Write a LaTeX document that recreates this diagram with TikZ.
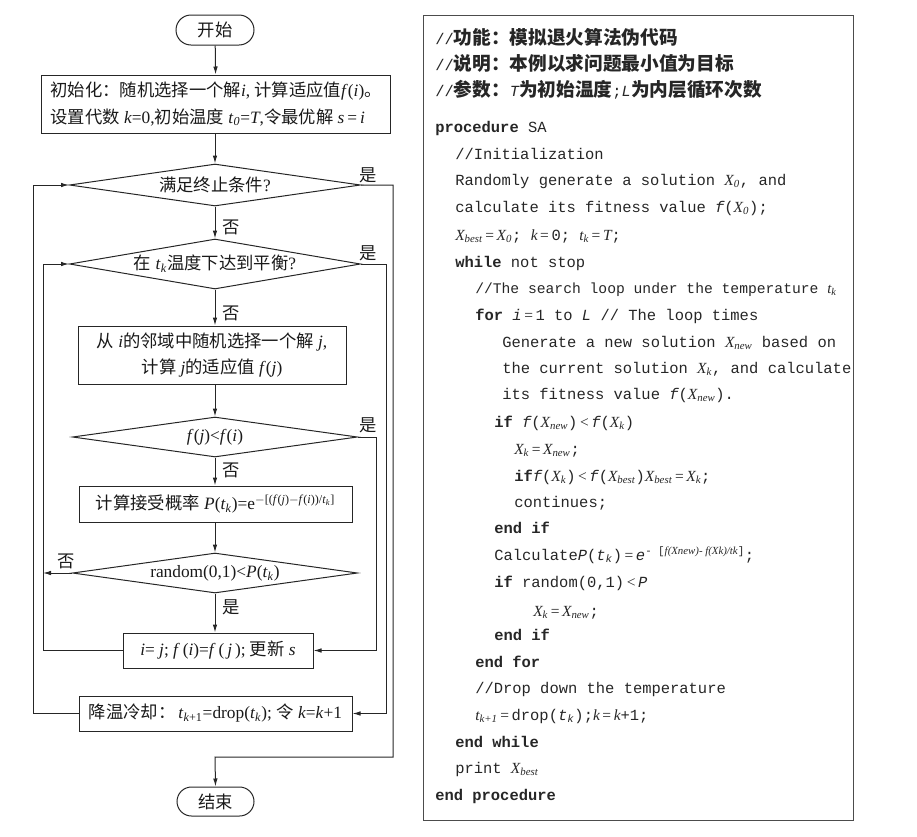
\documentclass[tikz,border=0pt]{standalone}
\usepackage{fontspec}
\setmainfont{Liberation Serif}
\newfontfamily\cjk{Noto Sans CJK SC}
\newfontfamily\code{Liberation Mono}
\usetikzlibrary{arrows.meta,shapes.geometric,shapes.misc}
\newlength\upx
\setlength\upx{0.75pt}
\newcommand\mv[2]{\textit{#1}\textsubscript{\textit{#2}}}
\newcommand\sv[1]{{\rmfamily\itshape #1}}
\newcommand\svs[2]{{\rmfamily\itshape #1\textsubscript{#2}}}
\newcommand\Eq{{\rmfamily\,=\,}}
\newcommand\Lt{{\rmfamily\,<\,}}
\begin{document}
\begin{tikzpicture}[x=0.75pt,y=-0.75pt,
  fc/.style={font=\fontsize{13}{20}\selectfont, line width=0.75pt, draw=black!85, text=black!90},
  term/.style={fc, rounded rectangle, minimum width=78\upx, minimum height=30\upx, inner sep=0pt},
  proc/.style={fc, rectangle, inner sep=0pt},
  dec/.style={fc, diamond, aspect=7, inner sep=0pt},
  lab/.style={font=\fontsize{13}{15}\selectfont\cjk, inner sep=0pt, text=black!90},
  flow/.style={line width=0.75pt, draw=black!85, -{Latex[length=6pt,width=3.4pt]}},
  wire/.style={line width=0.75pt, draw=black!85},
  codeline/.style={anchor=base west, inner sep=0pt, font=\fontsize{11.6}{14}\code, text=black!85},
]
\useasboundingbox (0,0) rectangle (917,836);

% ---------- flowchart ----------
\node[term] (start) at (215,30) {{\cjk 开始}};
\node[proc, minimum width=349\upx, minimum height=58\upx, align=left] (init) at (216,104)
  {{\cjk 初始化：随机选择一个解}\textit{i}, {\cjk 计算适应值}\textit{f}(\textit{i}){\cjk 。}\\
   {\cjk 设置代数} \textit{k}=0,{\cjk 初始温度} \mv{t}{0}=\textit{T},{\cjk 令最优解} \textit{s}\,=\,\textit{i}};
\node[dec, minimum width=291\upx, minimum height=42\upx] (d1) at (215,185) {{\cjk 满足终止条件}?};
\node[dec, minimum width=291\upx, minimum height=50\upx] (d2) at (215,264) {{\cjk 在} \mv{t}{k}{\cjk 温度下达到平衡}?};
\node[proc, minimum width=268\upx, minimum height=58\upx, align=center] (b3) at (212,355)
  {{\cjk 从} \textit{i}{\cjk 的邻域中随机选择一个解} \textit{j},\\
   {\cjk 计算} \textit{j}{\cjk 的适应值} \textit{f}(\textit{j})};
\node[dec, minimum width=285\upx, minimum height=40\upx] (d3) at (215,437) {\textit{f}(\textit{j})<\textit{f}(\textit{i})};
\node[proc, minimum width=273\upx, minimum height=36\upx] (b4) at (215.5,504)
  {{\cjk 计算接受概率} \textit{P}(\mv{t}{k})=e\textsuperscript{$-$[(\textit{f}(\textit{j})$-$\textit{f}(\textit{i}))/\mv{t}{k}]}};
\node[dec, minimum width=285\upx, minimum height=40\upx] (d4) at (215,573) {random(0,1)<\textit{P}(\mv{t}{k})};
\node[proc, minimum width=190\upx, minimum height=35\upx] (ij) at (218,650.5)
  {\textit{i}= \textit{j}; \textit{f}\,(\textit{i})=\textit{f}\,(\,\textit{j}\,); {\cjk 更新} \textit{s}};
\node[proc, minimum width=273\upx, minimum height=35\upx] (cool) at (215.5,713.5)
  {{\cjk 降温冷却：}\,\textit{t}\textsubscript{\textit{k}+1}=drop(\mv{t}{k}); {\cjk 令} \textit{k}=\textit{k}+1};
\node[term, minimum width=77\upx, minimum height=29\upx] (stop) at (215.5,801.5) {{\cjk 结束}};

\coordinate (r1a) at (393,185);
\coordinate (r1b) at (393,757);
\coordinate (r1c) at (215,757);
\coordinate (r2) at (386,0);
\coordinate (r3) at (376,0);
\coordinate (l1) at (33,0);
\coordinate (l2) at (43,0);

\draw[flow] (start) -- (init);
\draw[flow] (init.south -| d1.north) -- (d1.north);
\draw[flow] (d1.south) -- (d2.north);
\draw[flow] (d2.south) -- (d2.south |- b3.north);
\draw[flow] (d2.south |- b3.south) -- (d3.north);
\draw[flow] (d3.south) -- (d3.south |- b4.north);
\draw[flow] (d3.south |- b4.south) -- (d4.north);
\draw[flow] (d4.south) -- (d4.south |- ij.north);
\draw[flow] (d1.east) -- (r1a) -- (r1b) -- (r1c) -- (stop.north);
\draw[flow] (d2.east) -- (d2.east -| r2) |- (cool.east);
\draw[flow] (d3.east) -- (d3.east -| r3) |- (ij.east);
\draw[flow] (cool.west) -- (cool.west -| l1) |- (d1.west);
\draw[flow] (ij.west) -- (ij.west -| l2) |- (d2.west);
\draw[flow] (d4.west) -- (d4.west -| l2);

\node[lab] (y1) at (368,175) {是};
\node[lab] (y2) at (368,253) {是};
\node[lab] (y3) at (368,425) {是};
\node[lab] (n1) at (231,227) {否};
\node[lab] (n2) at (231,313) {否};
\node[lab] (n3) at (231,470) {否};
\node[lab] (y4) at (231,607) {是};
\node[lab] (n4) at (66,561) {否};

% ---------- pseudocode ----------
\node[draw=black!70, line width=0.75pt, minimum width=430\upx, minimum height=805\upx, inner sep=0pt] (codebox) at (638,417.5) {};

\node[codeline] (c01) at (435,44) {//{\cjk\bfseries\fontsize{14}{16}\selectfont 功能：模拟退火算法伪代码}};
\node[codeline] (c02) at (435,70) {//{\cjk\bfseries\fontsize{14}{16}\selectfont 说明：本例以求问题最小值为目标}};
\node[codeline] (c03) at (435,96) {//{\cjk\bfseries\fontsize{14}{16}\selectfont 参数：}{\itshape T}{\cjk\bfseries\fontsize{14}{16}\selectfont 为初始温度};{\itshape L}{\cjk\bfseries\fontsize{14}{16}\selectfont 为内层循环次数}};
\node[codeline] (c04) at (435,132) {{\bfseries procedure} SA};
\node[codeline] (c05) at (455,159) {//Initialization};
\node[codeline] (c06) at (455,185) {Randomly generate a solution \svs{X}{0}, and};
\node[codeline] (c07) at (455,212) {calculate its fitness value {\itshape f}(\svs{X}{0});};
\node[codeline] (c08) at (455,240) {\svs{X}{best}\Eq\svs{X}{0}; \sv{k}\Eq 0; \svs{t}{k}\Eq\sv{T};};
\node[codeline] (c09) at (455,267) {{\bfseries while} not stop};
\node[codeline, font=\fontsize{11}{14}\code] (c10) at (475,293) {//The search loop under the temperature \svs{t}{k}};
\node[codeline] (c11) at (475,320) {{\bfseries for} {\itshape i}\Eq 1 to {\itshape L} // The loop times};
\node[codeline] (c12) at (502,347) {Generate a new solution \svs{X}{new} based on};
\node[codeline] (c13) at (502,373) {the current solution \svs{X}{k}, and calculate};
\node[codeline] (c14) at (502,399) {its fitness value {\itshape f}(\svs{X}{new}).};
\node[codeline] (c15) at (494,427) {{\bfseries if} {\itshape f}(\svs{X}{new})\Lt{\itshape f}(\svs{X}{k})};
\node[codeline] (c16) at (514,454) {\svs{X}{k}\Eq\svs{X}{new};};
\node[codeline] (c17) at (514,481) {{\bfseries if}{\itshape f}(\svs{X}{k})\Lt{\itshape f}(\svs{X}{best})\svs{X}{best}\Eq\svs{X}{k};};
\node[codeline] (c18) at (514,507) {continues;};
\node[codeline] (c19) at (494,533) {{\bfseries end if}};
\node[codeline] (c20) at (494,560) {Calculate{\itshape P}({\itshape t}\textsubscript{\itshape k})\Eq{\itshape e}\textsuperscript{- [{\rmfamily\itshape f(Xnew)- f(Xk)/tk}]};};
\node[codeline] (c21) at (494,587) {{\bfseries if} random(0,1)\Lt{\itshape P}};
\node[codeline] (c22) at (533,616) {\svs{X}{k}\Eq\svs{X}{new};};
\node[codeline] (c23) at (494,640) {{\bfseries end if}};
\node[codeline] (c24) at (475,667) {{\bfseries end for}};
\node[codeline] (c25) at (475,693) {//Drop down the temperature};
\node[codeline] (c26) at (475,720) {\svs{t}{k+1}\Eq drop({\itshape t}\textsubscript{\itshape k});\sv{k}\Eq\sv{k}+1;};
\node[codeline] (c27) at (455,747) {{\bfseries end while}};
\node[codeline] (c28) at (455,773) {print \svs{X}{best}};
\node[codeline] (c29) at (435,800) {{\bfseries end procedure}};
\end{tikzpicture}
\end{document}
